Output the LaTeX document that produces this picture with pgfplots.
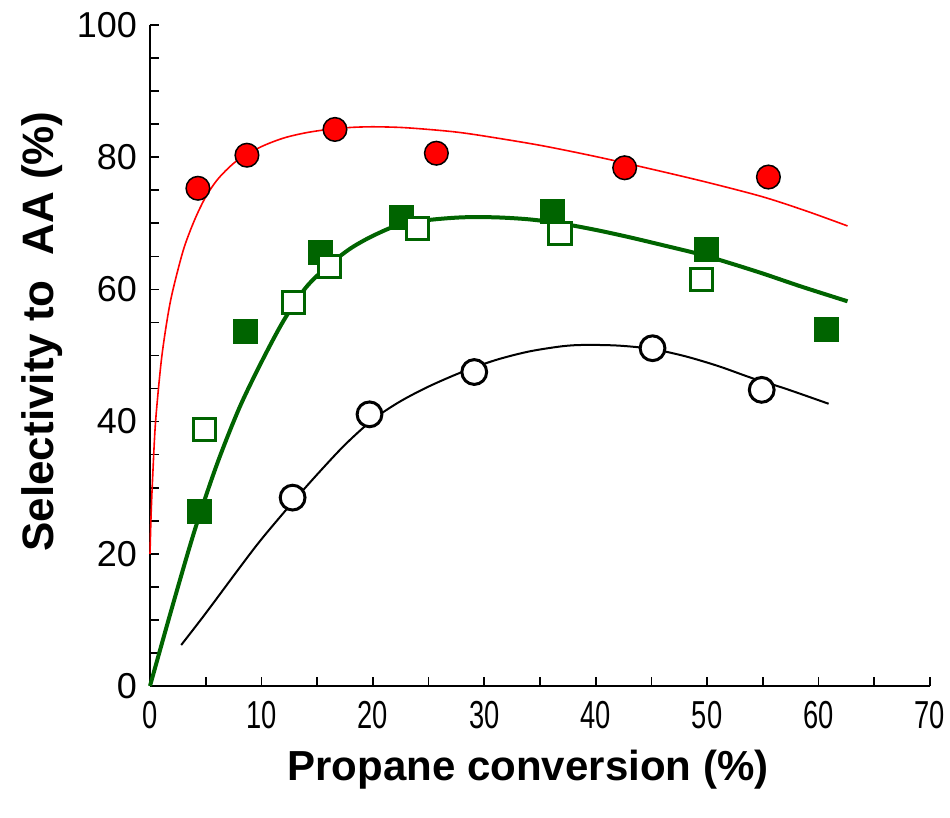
\documentclass[border=0pt]{standalone}
\usepackage{pgfplots}
\pgfplotsset{compat=1.18}
\usepackage{graphicx}
\usepackage{fontspec}
\setmainfont{Liberation Sans}
\definecolor{dgreen}{RGB}{0,100,0}
\begin{document}
\begin{tikzpicture}
\begin{axis}[
  scale only axis, width=390bp, height=330.5bp,
  xmin=0, xmax=70, ymin=0, ymax=100,
  axis x line*=bottom, axis y line*=left,
  axis line style={line width=1bp},
  xtick={0,10,...,70}, minor x tick num=1,
  ytick={0,20,...,100}, minor y tick num=3,
  tick align=inside,
  major tick length=4.5bp, minor tick length=4.5bp,
  every tick/.style={line width=0.8bp, black},
  /pgf/number format/assume math mode=true,
  yticklabel style={font=\fontsize{18bp}{18bp}\selectfont, xshift=-3bp},
  xticklabel style={font=\fontsize{19.5bp}{20bp}\selectfont, yshift=-4bp},
  xticklabel={\scalebox{0.7}[1]{\pgfmathprintnumber{\tick}}},
  xlabel={Propane conversion (\%)},
  ylabel={Selectivity to\ \ AA (\%)},
  xlabel style={font=\bfseries\fontsize{21bp}{22bp}\selectfont, at={([xshift=-6bp,yshift=-42bp]axis description cs:0.5,0)}, anchor=center},
  ylabel style={font=\bfseries\fontsize{22bp}{23bp}\selectfont, at={([xshift=-54bp,yshift=12bp]axis description cs:0,0.5)}, anchor=center},
  clip=false,
]
% fitted curves
\addplot[red, line width=0.8bp, smooth] coordinates {
(0,20) (0.1,26) (0.25,32) (0.5,40) (1,49) (1.5,55) (2,59.5) (3,66) (4,70.5) (5,74) (6,76.5) (7,78.3) (8,79.7) (10,81.6) (12,82.9) (14,83.7) (16,84.2) (18,84.5) (20,84.6) (22.5,84.5) (25,84.2) (27.5,83.8) (30,83.2) (35,81.8) (40,80.1) (45,78.2) (50,76.2) (55,74.0) (59,71.8) (62.6,69.6)};
\addplot[dgreen, line width=2bp, smooth] coordinates {
(0,0) (2,12) (4,23.5) (6,33.5) (8,42) (10,49) (12,55.3) (14,60.3) (16,63.6) (18,66.2) (20,68.1) (22.4,69.8) (25,70.5) (28,70.9) (31,70.9) (34,70.6) (36.8,70.0) (40,69.0) (43,67.9) (46,66.7) (49.4,65.3) (52,64.0) (55,62.4) (58.5,60.4) (62.6,58.2)};
\addplot[black, line width=1bp, smooth] coordinates {
(2.8,6.2) (5,11) (8,17.8) (10,22.2) (12.8,27.8) (15,32) (17.5,36.5) (20,40.3) (22.4,43.0) (25,45.3) (28,47.5) (31,49.3) (34,50.6) (37,51.4) (39,51.6) (42,51.5) (45,51.0) (48,49.9) (51,48.4) (54,46.6) (57,45.0) (60.9,42.7)};
% data
\addplot[only marks, mark=square*, mark size=6bp, draw=dgreen, fill=dgreen] coordinates {
(4.4,26.4) (8.6,53.6) (15.3,65.6) (22.6,70.9) (36.1,71.8) (49.9,66.1) (60.7,53.9)};
\addplot[only marks, mark=square*, mark size=5.6bp, mark options={draw=dgreen, fill=white, line width=1.5bp}] coordinates {
(4.9,38.8) (12.9,58.0) (16.1,63.5) (24.0,69.2) (36.8,68.5) (49.5,61.5)};
\addplot[only marks, mark=*, mark size=5.9bp, mark options={draw=black, fill=red, line width=0.75bp}] coordinates {
(4.3,75.3) (8.7,80.3) (16.6,84.2) (25.7,80.6) (42.6,78.4) (55.5,77.0)};
\addplot[only marks, mark=*, mark size=6.2bp, mark options={draw=black, fill=white, line width=1.5bp}] coordinates {
(12.8,28.5) (19.7,41.1) (29.1,47.5) (45.1,51.1) (54.9,44.8)};
\end{axis}
\pgfresetboundingbox
\useasboundingbox (-75bp,-66bp) rectangle (400bp,343bp);
\end{tikzpicture}
\end{document}
